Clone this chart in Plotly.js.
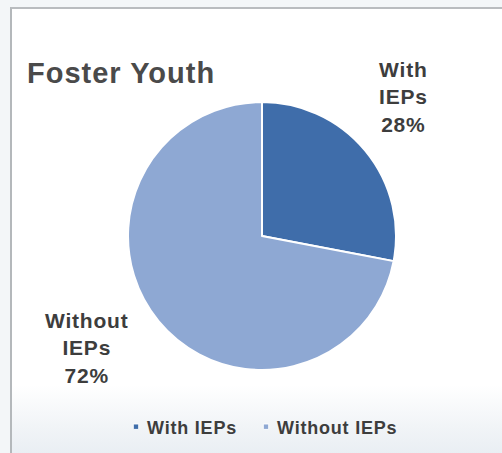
<!DOCTYPE html>
<html>
<head>
<meta charset="utf-8">
<script src="https://cdn.plot.ly/plotly-3.0.1.min.js"></script>
<style>
  html, body { margin: 0; padding: 0; width: 502px; height: 453px; overflow: hidden; background: #f3f6f8; }
  #frame { position: absolute; left: 10px; top: 7px; width: 520px; height: 470px;
           border-left: 2px solid #b4b8bb; border-top: 2px solid #b9bcbf;
           background: linear-gradient(to bottom, #ffffff 0px, #ffffff 376px, #f1f4f7 418px, #e9eef3 446px); }
  #chart { position: absolute; left: 0; top: 0; width: 502px; height: 453px; }
  .legendpoints path { transform: translate(29px, 0px) scale(0.45); }
  .gtitle { letter-spacing: 1px; }
  .annotation-text { letter-spacing: 0.8px; }
  .legendtext { letter-spacing: 0.8px; }
  .legend .scrollbox, .legend .traces, .legend g { clip-path: none !important; }
</style>
</head>
<body>
<div id="frame"></div>
<div id="chart"></div>
<script>
const labels = ['With IEPs', 'Without IEPs'];
const values = [28, 72];
const colors = ['#3f6daa', '#8ea8d3'];
const chartTitle = 'Foster Youth';

const total = values.reduce((a, b) => a + b, 0);
const labelText = labels.map((l, i) =>
  l.split(' ').join('<br>') + '<br>' + Math.round(values[i] / total * 100) + '%');

const W = 502, H = 453;
const px = x => x / W;
const py = y => 1 - y / H;

const trace = {
  type: 'pie',
  labels: labels,
  values: values,
  sort: false,
  direction: 'clockwise',
  rotation: 0,
  textinfo: 'none',
  hoverinfo: 'label+percent',
  marker: { colors: colors, line: { color: '#ffffff', width: 2 } },
  domain: { x: [px(128), px(396)], y: [py(370), py(102)] }
};

const textFont = { family: 'Liberation Sans, Arial, sans-serif', size: 21, color: '#3d3d3d', weight: 'bold' };

const layout = {
  width: W, height: H,
  margin: { l: 0, r: 0, t: 0, b: 0 },
  paper_bgcolor: 'rgba(0,0,0,0)',
  plot_bgcolor: 'rgba(0,0,0,0)',
  title: {
    text: chartTitle,
    font: { family: 'Liberation Sans, Arial, sans-serif', size: 29, color: '#4a4a4a', weight: 'bold' },
    xref: 'paper', yref: 'paper', x: px(27), xanchor: 'left', y: py(73), yanchor: 'middle'
  },
  showlegend: true,
  legend: {
    orientation: 'h',
    x: px(107), xanchor: 'left',
    y: py(427), yanchor: 'middle',
    font: { family: 'Liberation Sans, Arial, sans-serif', size: 18, color: '#3d3d3d', weight: 'bold' },
    bgcolor: 'rgba(0,0,0,0)',
    itemwidth: 30,
    entrywidth: 85,
    entrywidthmode: 'pixels',
    traceorder: 'normal'
  },
  annotations: [
    { text: labelText[0], xref: 'paper', yref: 'paper', x: px(403), y: py(97),
      xanchor: 'center', yanchor: 'middle', showarrow: false, font: textFont, align: 'center' },
    { text: labelText[1], xref: 'paper', yref: 'paper', x: px(87), y: py(348),
      xanchor: 'center', yanchor: 'middle', showarrow: false, font: textFont, align: 'center' }
  ]
};

Plotly.newPlot('chart', [trace], layout, { displayModeBar: false, staticPlot: true });
</script>
</body>
</html>
